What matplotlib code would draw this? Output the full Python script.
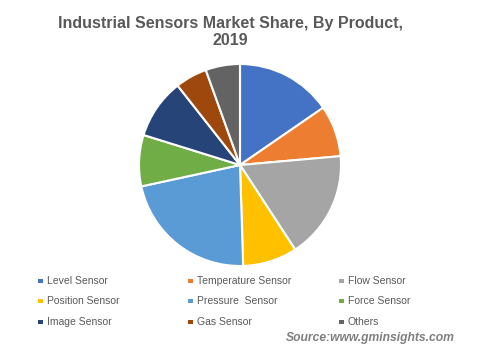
import matplotlib
matplotlib.use("Agg")
import matplotlib.pyplot as plt
from matplotlib.patches import Rectangle

categories = ["Level Sensor", "Temperature Sensor", "Flow Sensor", "Position Sensor",
              "Pressure  Sensor", "Force Sensor", "Image Sensor", "Gas Sensor", "Others"]
shares = [15.4, 8.2, 17.2, 8.7, 22.1, 8.2, 9.6, 5.1, 5.5]
colors = ["#4472C4", "#ED7D31", "#A5A5A5", "#FFC000", "#5B9BD5",
          "#70AD47", "#264478", "#9E480E", "#636363"]

plt.rcParams['font.family'] = ['Liberation Sans', 'DejaVu Sans']

fig = plt.figure(figsize=(4.8, 3.55), dpi=100)
fig.patch.set_facecolor("white")

W, H = 480, 355
cx, cy, r = 240, 165, 101
ax = fig.add_axes([(cx - r) / W, (H - cy - r) / H, 2 * r / W, 2 * r / H])
ax.pie(shares, colors=colors, startangle=90, counterclock=False, radius=1,
       wedgeprops=dict(edgecolor="white", linewidth=1.5))
ax.set_xlim(-1.0, 1.0)
ax.set_ylim(-1.0, 1.0)
ax.set_aspect("equal")
ax.axis("off")

fig.text(230 / W, 1 - 32 / H, "Industrial Sensors Market Share, By Product,\n2019",
         ha="center", va="center", fontsize=11.5, fontweight="bold", color="#595959",
         linespacing=1.22)

# manual legend (row-major)
col_x = [38, 188, 339]
row_y = [281, 301, 322]
sq = 4.5
for i, name in enumerate(categories):
    x = col_x[i % 3]
    y = row_y[i // 3]
    fig.add_artist(Rectangle((x / W, (H - y - sq / 2) / H), sq / W, sq / H,
                             transform=fig.transFigure, facecolor=colors[i],
                             edgecolor="none"))
    fig.text((x + 9) / W, (H - y) / H, name, ha="left", va="center",
             fontsize=7.5, color="#595959")

fig.text(455 / W, 1 - 338 / H, "Source:www.gminsights.com", ha="right", va="center",
         fontsize=8.7, fontweight="bold", fontstyle="italic", color="#7F7F7F")

fig.savefig("out.png", dpi=100)
